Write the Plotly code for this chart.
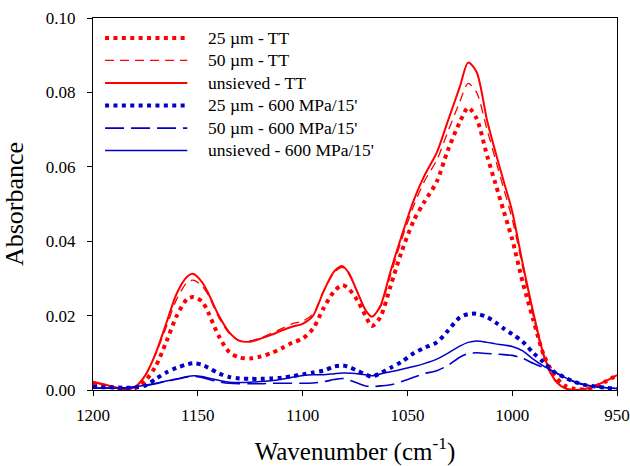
import plotly.graph_objects as go

# Wavenumber grid (cm-1)
wavenumber = [1200, 1190, 1185, 1180, 1175, 1170, 1165, 1160, 1155, 1152, 1148, 1145, 1140,
              1135, 1130, 1125, 1120, 1115, 1110, 1105, 1100, 1095, 1090, 1085, 1081, 1078,
              1074, 1070, 1067, 1063, 1058, 1053, 1047, 1042, 1036, 1031, 1025, 1021, 1017,
              1012, 1008, 1004, 1000, 995, 990, 985, 980, 975, 970, 965, 960, 955, 950]

tt_25um = [.0018, .0006, .0000, .0005, .0025, .0065, .0130, .0200, .0245, .0250, .0238, .0208, .0145,
           .0102, .0087, .0085, .0090, .0099, .0112, .0127, .0138, .0165, .0220, .0265, .0282, .0272,
           .0242, .0200, .0172, .0195, .0280, .0368, .0455, .0505, .0560, .0640, .0720, .0759, .0730,
           .0630, .0555, .0480, .0405, .0290, .0190, .0095, .0040, .0012, .0003, .0002, .0010, .0024, .0040]

tt_50um = [.0020, .0008, .0002, .0008, .0040, .0098, .0170, .0245, .0290, .0295, .0280, .0255, .0195,
           .0152, .0132, .0132, .0140, .0152, .0165, .0178, .0185, .0205, .0265, .0315, .0330, .0312,
           .0265, .0215, .0197, .0222, .0310, .0400, .0495, .0560, .0618, .0690, .0775, .0824, .0800,
           .0700, .0620, .0540, .0460, .0330, .0200, .0090, .0027, .0005, .0000, .0003, .0012, .0025, .0040]

tt_unsieved = [.0022, .0008, .0002, .0008, .0040, .0100, .0180, .0260, .0305, .0312, .0290, .0260, .0200,
               .0155, .0132, .0130, .0138, .0148, .0160, .0170, .0178, .0200, .0265, .0318, .0333, .0315,
               .0265, .0215, .0197, .0225, .0320, .0410, .0510, .0575, .0638, .0718, .0815, .0880, .0855,
               .0725, .0640, .0560, .0480, .0340, .0210, .0095, .0030, .0005, .0000, .0003, .0012, .0025, .0040]

hp_25um = [.0008, .0007, .0006, .0007, .0012, .0030, .0047, .0060, .0069, .0072, .0068, .0060, .0045,
           .0035, .0031, .0030, .0030, .0031, .0033, .0037, .0042, .0047, .0052, .0063, .0066, .0062,
           .0052, .0042, .0036, .0045, .0060, .0075, .0099, .0113, .0128, .0157, .0195, .0204, .0205,
           .0196, .0182, .0165, .0150, .0130, .0100, .0075, .0049, .0034, .0021, .0013, .0009, .0006, .0004]

hp_50um = [.0005, .0005, .0005, .0008, .0012, .0017, .0023, .0029, .0035, .0037, .0034, .0029, .0022,
           .0018, .0017, .0017, .0017, .0018, .0018, .0018, .0018, .0019, .0022, .0028, .0031, .0027,
           .0019, .0011, .0009, .0011, .0014, .0022, .0034, .0044, .0052, .0065, .0088, .0098, .0100,
           .0098, .0097, .0095, .0093, .0085, .0072, .0060, .0049, .0034, .0021, .0013, .0009, .0006, .0004]

hp_unsieved = [.0005, .0005, .0006, .0009, .0013, .0018, .0024, .0030, .0036, .0038, .0036, .0032, .0026,
               .0021, .0020, .0021, .0023, .0025, .0029, .0034, .0039, .0041, .0041, .0044, .0046, .0045,
               .0044, .0041, .0038, .0043, .0049, .0055, .0063, .0071, .0083, .0098, .0118, .0128, .0132,
               .0128, .0124, .0121, .0117, .0105, .0083, .0064, .0049, .0034, .0022, .0014, .0009, .0006, .0004]

series_names = ["25 µm - TT", "50 µm - TT", "unsieved - TT",
                "25 µm - 600 MPa/15'", "50 µm - 600 MPa/15'", "unsieved - 600 MPa/15'"]
series_values = [tt_25um, tt_50um, tt_unsieved, hp_25um, hp_50um, hp_unsieved]

x_ticks = [1200, 1150, 1100, 1050, 1000, 950]
y_ticks = [0.00, 0.02, 0.04, 0.06, 0.08, 0.10]

RED = "#FF0000"
BLUE = "#0000C8"
styles = [
    dict(color=RED, width=4.0, dash="4px,4.4px"),
    dict(color=RED, width=1.3, dash="9px,6px"),
    dict(color=RED, width=2.0, dash="solid"),
    dict(color=BLUE, width=4.0, dash="4px,4.4px"),
    dict(color=BLUE, width=1.6, dash="19px,7px"),
    dict(color=BLUE, width=1.5, dash="solid"),
]

FONT = "Liberation Serif"

fig = go.Figure()
for name, vals, st in zip(series_names, series_values, styles):
    fig.add_trace(go.Scatter(x=wavenumber, y=vals, mode="lines", name=name,
                             line=dict(shape="spline", smoothing=0.8, **st),
                             showlegend=False))

# Manual legend (long line samples as in the original)
leg_y = [0.946, 0.886, 0.825, 0.765, 0.704, 0.644]
for name, st, yy in zip(series_names, styles, leg_y):
    fig.add_shape(type="line", xref="paper", yref="paper", x0=0.023, x1=0.180, y0=yy, y1=yy,
                  line=dict(color=st["color"], width=st["width"], dash=st["dash"]))
    fig.add_annotation(xref="paper", yref="paper", x=0.215, y=yy, text=name, showarrow=False,
                       xanchor="left", yanchor="middle", font=dict(family=FONT, size=17.5, color="black"))

axis_common = dict(showline=True, linecolor="black", linewidth=1, mirror=True, automargin=False,
                   ticks="outside", ticklen=5, tickcolor="black", showgrid=False, zeroline=False,
                   tickfont=dict(family=FONT, size=17, color="black"))

fig.update_layout(
    width=630, height=466,
    font=dict(family=FONT, size=17, color="black"),
    margin=dict(l=93, r=13, t=18, b=76),
    paper_bgcolor="white", plot_bgcolor="white",
    xaxis=dict(range=[1200, 950], tickvals=x_ticks, ticktext=[str(v) for v in x_ticks],
               ticklabelstandoff=5,
               title=dict(text="Wavenumber (cm<sup>-1</sup>)", font=dict(family=FONT, size=25, color="black"),
                          standoff=18),
               **axis_common),
    yaxis=dict(range=[0, 0.10], tickvals=y_ticks, ticktext=[f"{v:.2f}" for v in y_ticks],
               ticklabelstandoff=8,
               title=dict(text="Absorbance", font=dict(family=FONT, size=26, color="black"), standoff=14),
               **axis_common),
)

fig.write_html("out.html", config={"displayModeBar": False},
               post_script="document.body.style.margin='0px';document.body.style.padding='0px';")
